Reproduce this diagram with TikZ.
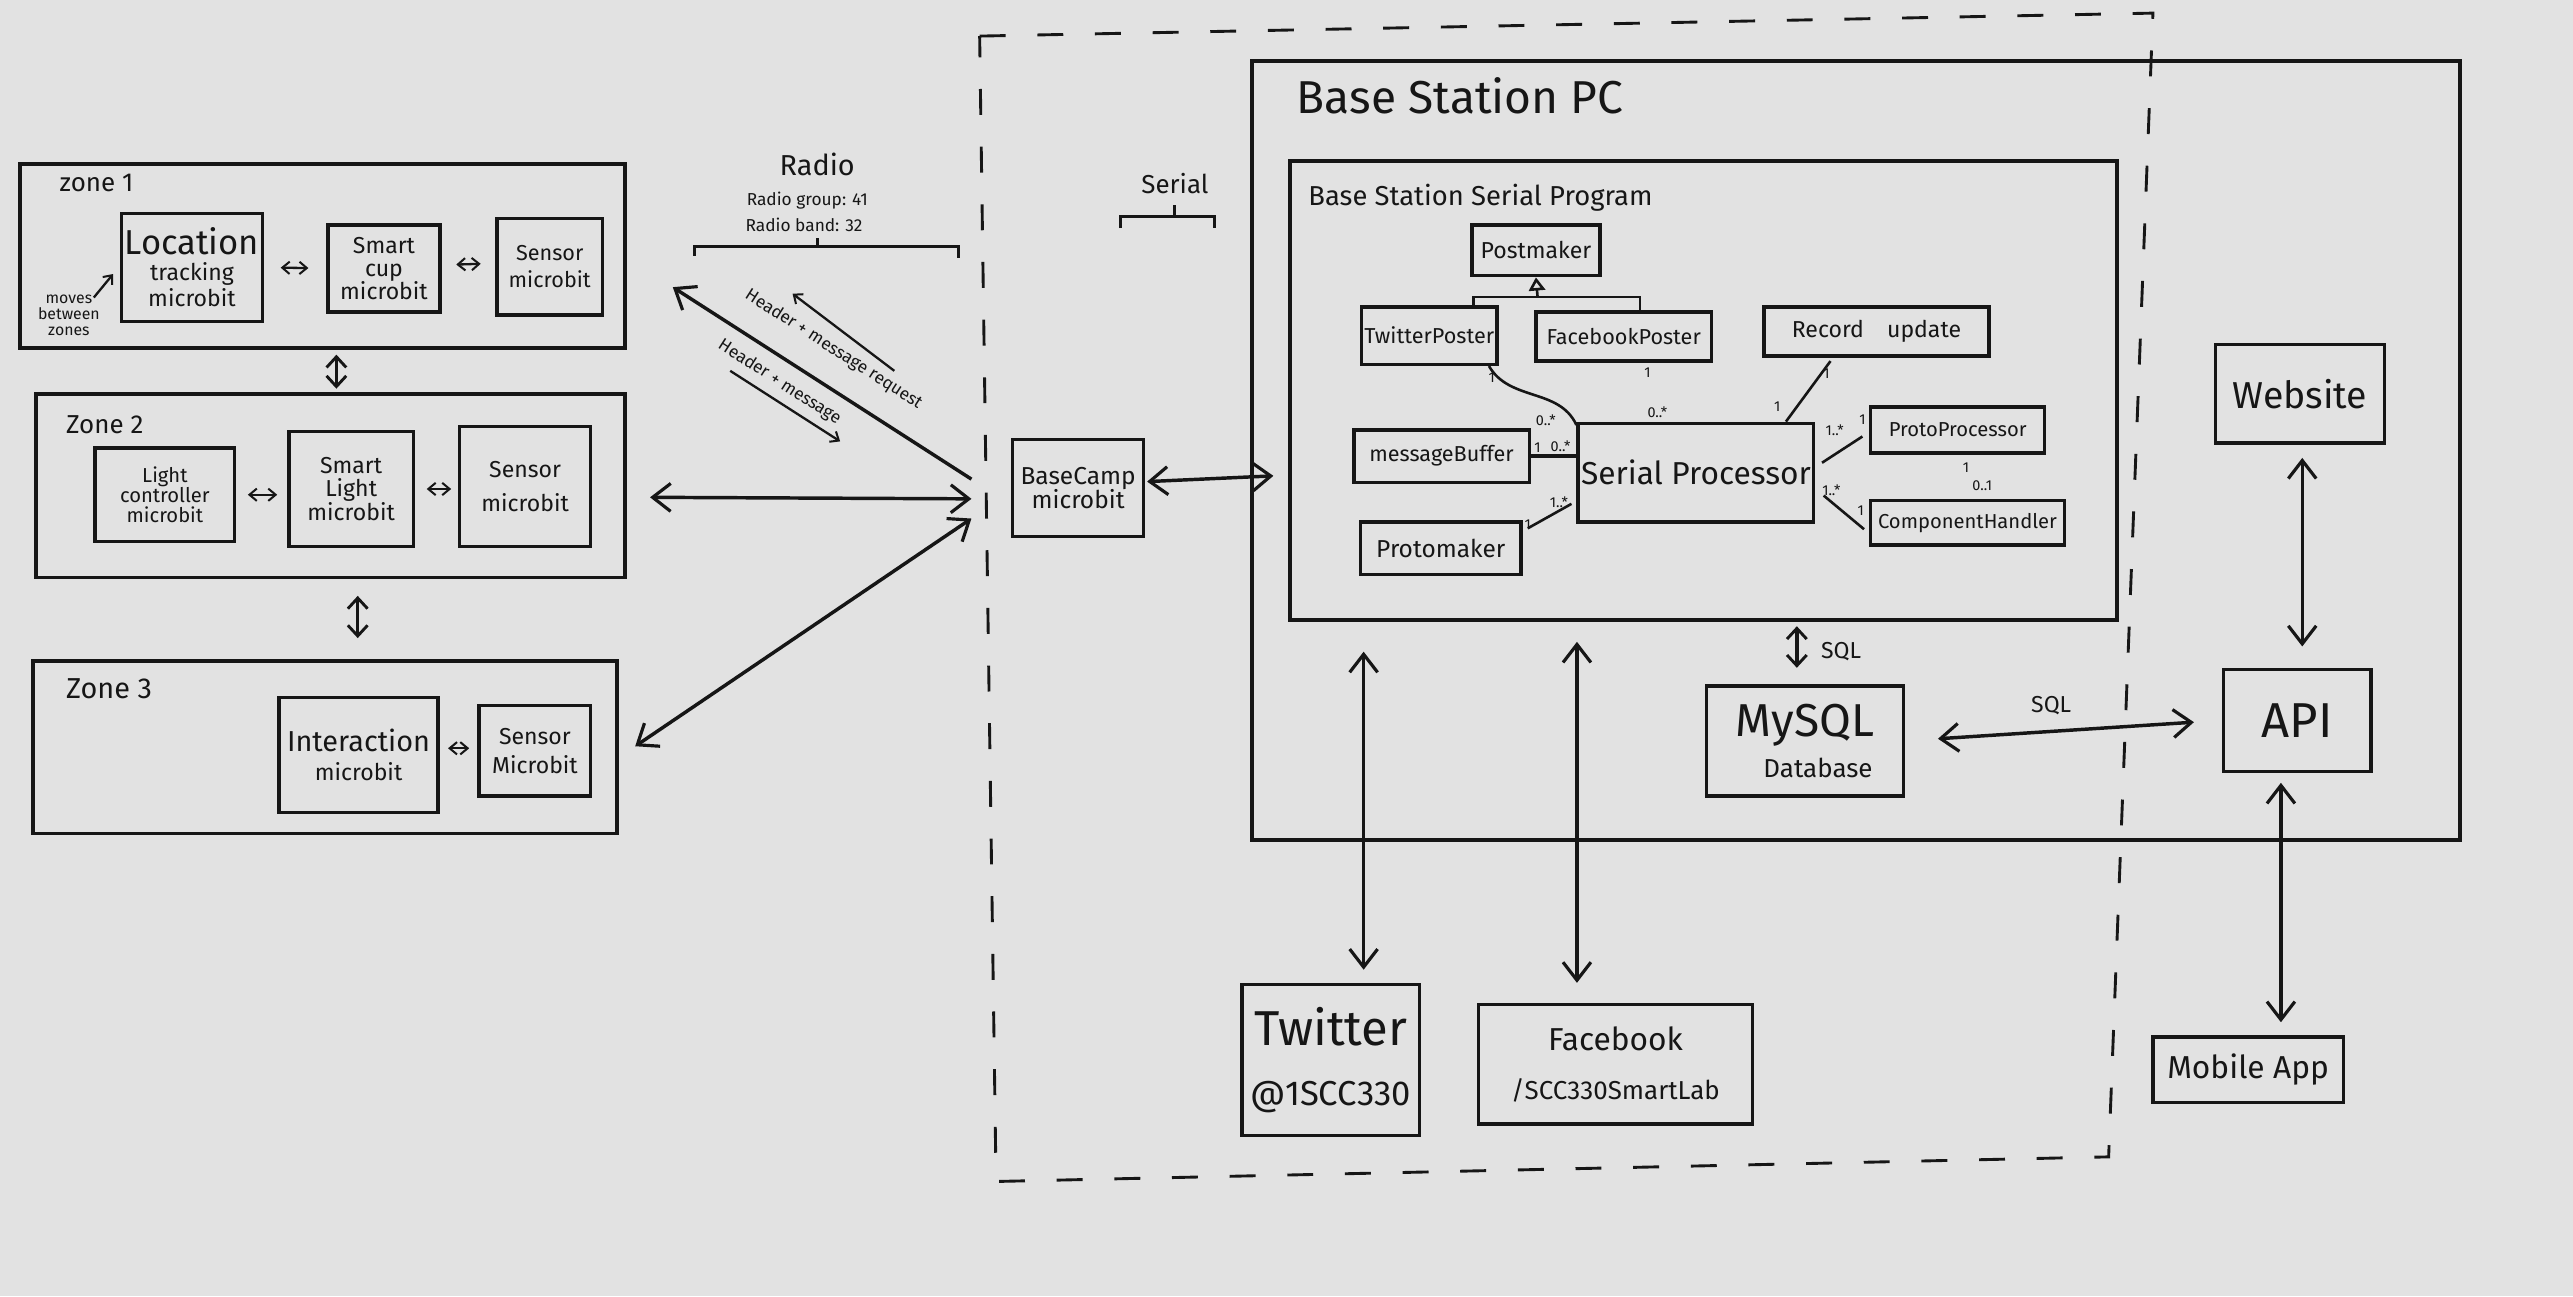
\documentclass[tikz,border=0pt]{standalone}
\usepackage{fontspec}
\setmainfont{Fira Sans}
\usetikzlibrary{arrows.meta,calc}
\definecolor{paper}{RGB}{226,226,226}
\definecolor{ink}{RGB}{22,22,22}
\newcommand\mybox[7][]{%
  \pgfmathsetmacro\cx{(#3+#5)/2}\pgfmathsetmacro\cy{(#4+#6)/2}%
  \pgfmathsetmacro\ww{(#5-#3)*0.02}\pgfmathsetmacro\hh{(#6-#4)*0.02}%
  \node[box,minimum width=\ww cm,minimum height=\hh cm,#1] (#2) at (\cx,\cy) {#7};}
\newcommand\fs[1]{\fontsize{#1}{#1}\selectfont}
\tikzset{
  bigtip/.tip={Straight Barb[length=2.2mm,width=3.4mm,line width=1.1pt]},
  midtip/.tip={Straight Barb[length=1.3mm,width=2.4mm,line width=1pt]},
  smalltip/.tip={Straight Barb[length=0.9mm,width=1.5mm,line width=0.7pt]},
  box/.style={draw=ink,line width=1.2pt,inner sep=1pt,align=center,text=ink},
  zonebox/.style={line width=1.3pt},
  arr/.style={draw=ink,line width=1.2pt,-{bigtip}},
  dbl/.style={draw=ink,line width=1.2pt,{bigtip}-{bigtip}},
  mdbl/.style={draw=ink,line width=1.2pt,{midtip}-{midtip}},
  sdbl/.style={draw=ink,line width=0.8pt,{smalltip}-{smalltip}},
  sarr/.style={draw=ink,line width=0.8pt,-{smalltip}},
  assoc/.style={draw=ink,line width=0.9pt},
  gen/.style={draw=ink,line width=0.9pt,-{Triangle[open,length=1.6mm,width=2mm]}},
  mult/.style={font=\fs{5},text=ink,inner sep=0pt},
  lbl/.style={text=ink,inner sep=0pt,align=center},
}
\begin{document}
\begin{tikzpicture}[x=0.02cm,y=-0.02cm]
\fill[paper] (0,0) rectangle (1568,790);
\useasboundingbox (0,0) rectangle (1568,790);

% ---------- Zone 1
\mybox[zonebox]{z1}{12}{100}{381}{212}{}
\node[lbl,anchor=north west,font=\fs{9}] (z1l) at (36,106) {zone 1};
\mybox[font=\fs{8}]{loc}{74}{130}{160}{196}{{\fs{12}Location}\\[1pt]tracking\\[1pt]microbit}
\mybox[font=\fs{8}]{cup}{200}{137}{268}{190}{Smart\\cup\\microbit}
\mybox[font=\fs{7.5}]{sen1}{303}{133}{367}{192}{Sensor\\[2pt]microbit}
\node[lbl,font=\fs{5.5}] (moves) at (42,192) {moves\\between\\zones};
\draw[sarr] ($(moves.north east)+(-4,2)$) -- ($(loc.west)+(-4,4)$);
\draw[sdbl,shorten <=0.2cm,shorten >=0.22cm] (loc.east) -- (cup.west);
\draw[sdbl,shorten <=0.18cm,shorten >=0.18cm] ($(cup.east)+(0,-2)$) -- ($(sen1.west)+(0,-2)$);

% ---------- Zone 2
\mybox[zonebox]{z2}{22}{240}{381}{352}{}
\node[lbl,anchor=north west,font=\fs{9}] (z2l) at (40,253) {Zone 2};
\mybox[font=\fs{7}]{lc}{58}{273}{143}{330}{Light\\controller\\microbit}
\mybox[font=\fs{8}]{sl}{176}{263}{252}{333}{Smart\\Light\\microbit}
\mybox[font=\fs{8}]{sen2}{280}{260}{360}{333}{Sensor\\[4pt]microbit}
\draw[sdbl,shorten <=0.14cm,shorten >=0.12cm] (lc.east) -- (lc.east -| sl.west);
\draw[sdbl,shorten <=0.14cm,shorten >=0.08cm] (sl.east) -- (sl.east -| sen2.west);

% ---------- Zone 3
\mybox[zonebox]{z3}{20}{403}{376}{508}{}
\node[lbl,anchor=north west,font=\fs{10}] (z3l) at (40,413) {Zone 3};
\mybox[font=\fs{8}]{inter}{170}{425}{267}{495}{{\fs{10}Interaction}\\[2pt]microbit}
\mybox[font=\fs{8}]{sen3}{292}{430}{360}{485}{Sensor\\[2pt]Microbit}
\draw[sdbl,shorten <=0.1cm,shorten >=0.1cm] ($(inter.east)+(0,-4)$) -- ($(inter.east -| sen3.west)+(0,-4)$);

% zone links
\coordinate (a12) at (205,0);
\coordinate (a23) at (218,0);
\draw[mdbl,shorten <=0.06cm,shorten >=0.04cm] (z1.south -| a12) -- (z2.north -| a12);
\draw[mdbl,shorten <=0.2cm,shorten >=0.26cm] (z2.south -| a23) -- (z3.north -| a23);

% ---------- Radio
\node[lbl,font=\fs{10}] (radio) at (498,100) {Radio};
\node[lbl,font=\fs{6}] (rg) at (492,122) {Radio group: 41};
\node[lbl,font=\fs{6}] (rb) at (490,137) {Radio band: 32};
\draw[ink,line width=1.1pt] (423,156) -- (423,150) -- (584,150) -- (584,157);
\draw[ink,line width=1pt] (498,150) -- (498,145);

\coordinate (r1) at (592,292);
\coordinate (r2) at (592,304);
\coordinate (r3) at (592,316);
\coordinate (ztip) at (410,175);
\draw[arr] (r1) -- (ztip);
\draw[dbl,shorten <=0.28cm] ($(z2.east)+(0,7)$) -- (r2);
\draw[dbl,shorten <=0.24cm] ($(z3.east)+(0,6)$) -- (r3);
\node[lbl,font=\fs{6},rotate=-32.7] (hreq) at (508,213) {Header + message request};
\node[lbl,font=\fs{6},rotate=-32.7] (hmsg) at (475,233) {Header + message};
\coordinate (ua1) at (545,226); \coordinate (ua2) at (483,179);
\coordinate (la1) at (445,226); \coordinate (la2) at (512,269);
\draw[sarr] (ua1) -- (ua2);
\draw[sarr] (la1) -- (la2);

% ---------- Dashed boundary
\draw[ink,line width=1pt,dash pattern=on 9pt off 11pt] (597,22) -- (1312,8) -- (1285,705) -- (607,720) -- cycle;

% ---------- BaseCamp and serial
\mybox[font=\fs{8.5}]{bc}{617}{268}{697}{327}{BaseCamp\\microbit}
\node[lbl,font=\fs{9}] (serial) at (716,112) {Serial};
\draw[ink,line width=1.1pt] (683,139) -- (683,132) -- (740,132) -- (740,139);
\draw[ink,line width=1pt] (716,132) -- (716,125);

% ---------- Base Station PC
\mybox[line width=1.4pt]{pc}{763}{37}{1499}{512}{}
\node[lbl,anchor=north west,font=\fs{16}] (pct) at (790,47) {Base Station PC};
\coordinate (pcin) at (776,290);
\draw[dbl] ($(bc.east)+(1,-4)$) -- (pcin);

% ---------- Serial program
\mybox[line width=1.3pt]{prog}{786}{98}{1290}{378}{}
\node[lbl,anchor=north west,font=\fs{9.5}] (progt) at (797,112) {Base Station Serial Program};

\mybox[font=\fs{8}]{pmk}{897}{137}{975}{168}{Postmaker}
\mybox[font=\fs{7.5}]{tw}{830}{187}{912}{222}{TwitterPoster}
\mybox[font=\fs{7.5}]{fb}{936}{190}{1043}{220}{FacebookPoster}
\mybox[font=\fs{8}]{rec}{1075}{187}{1212}{217}{Record\quad update}
\mybox[font=\fs{7.5}]{mb}{825}{262}{932}{294}{messageBuffer}
\mybox[font=\fs{8.5}]{pm}{829}{318}{927}{350}{Protomaker}
\mybox[font=\fs{11}]{sp}{962}{258}{1105}{318}{Serial Processor}
\mybox[font=\fs{7}]{pp}{1140}{248}{1246}{276}{ProtoProcessor}
\mybox[font=\fs{7}]{ch}{1140}{305}{1258}{332}{ComponentHandler}

\coordinate (inh) at (937,181);
\draw[assoc] ($(tw.north)+(27,0)$) |- (inh) -| ($(fb.north)+(10,0)$);
\draw[gen] (inh) -- (pmk.south);

\draw[assoc] ($(tw.south east)+(-6,0)$) to[out=-60,in=115] ($(sp.north west)+(0,2)$);
\draw[assoc] ($(fb.south)+(8,0)$) -- ($(fb.south)+(8,0)$ |- sp.north);
\draw[assoc] ($(rec.south)+(-28,2)$) -- ($(sp.north east)+(-18,0)$);
\draw[assoc,line width=1.2pt] (mb.east) -- (mb.east -| sp.west);
\draw[assoc] ($(pm.north east)+(3,5)$) -- ($(sp.south west)+(-3,-12)$);
\draw[assoc] ($(sp.east)+(4,-6)$) -- ($(pp.west)+(-4,4)$);
\draw[assoc] ($(sp.east)+(5,14)$) -- ($(ch.west)+(-3,4)$);
\draw[assoc] ($(pp.south)+(0,1)$) -- ($(pp.south)+(0,1)$ |- ch.north);

\node[mult] (m1) at (909,230) {1};
\node[mult] (m2) at (942,256) {0..*};
\node[mult] (m3) at (1004,227) {1};
\node[mult] (m4) at (1010,251) {0..*};
\node[mult] (m5) at (1113,228) {1};
\node[mult] (m6) at (1083,248) {1};
\node[mult] (m7) at (937,273) {1};
\node[mult] (m8) at (951,272) {0..*};
\node[mult] (m9) at (931,320) {1};
\node[mult] (m10) at (950,306) {1..*};
\node[mult] (m11) at (1118,262) {1..*};
\node[mult] (m12) at (1135,256) {1};
\node[mult] (m13) at (1116,299) {1..*};
\node[mult] (m14) at (1134,311) {1};
\node[mult] (m15) at (1198,285) {1};
\node[mult] (m16) at (1208,296) {0..1};

% ---------- Database, API, Website, Mobile
\mybox[font=\fs{16}]{db}{1040}{418}{1160}{485}{MySQL\\[-2pt]{\fs{9}\quad Database}}
\mybox[font=\fs{17}]{api}{1355}{408}{1445}{470}{API}
\mybox[font=\fs{13}]{web}{1350}{210}{1453}{270}{Website}
\mybox[font=\fs{11}]{mob}{1312}{632}{1428}{672}{Mobile App}

\coordinate (sqx) at (1095,0);
\draw[mdbl,shorten <=0.05cm,shorten >=0.2cm] (prog.south -| sqx) -- (db.north -| sqx);
\node[lbl,font=\fs{8}] (sql1) at (1122,397) {SQL};
\draw[dbl,shorten <=0.4cm,shorten >=0.34cm] (db.east) -- (api.west);
\node[lbl,font=\fs{8}] (sql2) at (1250,430) {SQL};
\coordinate (wx) at (1403,0);
\draw[dbl,shorten <=0.16cm,shorten >=0.26cm] (web.south -| wx) -- (api.north -| wx);
\coordinate (mx) at (1390,0);
\draw[dbl,shorten <=0.12cm,shorten >=0.16cm] (api.south -| mx) -- (mob.north -| mx);

% ---------- Twitter / Facebook
\mybox[font=\fs{17}]{twt}{757}{600}{865}{692}{Twitter\\[4pt]{\fs{12}@1SCC330}}
\mybox[font=\fs{11}]{fbk}{901}{612}{1068}{685}{Facebook\\[6pt]{\fs{9}/SCC330SmartLab}}
\coordinate (tx) at (831,0);
\coordinate (fx) at (961,0);
\draw[dbl,shorten <=0.36cm,shorten >=0.16cm] (prog.south -| tx) -- (twt.north -| tx);
\draw[dbl,shorten <=0.24cm,shorten >=0.24cm] (prog.south -| fx) -- (fbk.north -| fx);
\end{tikzpicture}
\end{document}
